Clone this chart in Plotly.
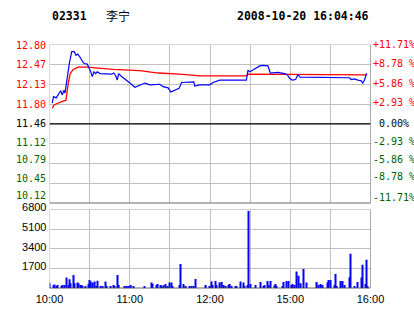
import plotly.graph_objects as go

W, H = 414, 314

# ---------------- data ----------------
code = "02331"
name = "李宁"
stamp = "2008-10-20 16:04:46"
prev_close = 11.46
pct_levels = [-11.71, -8.78, -5.86, -2.93, 0.0, 2.93, 5.86, 8.78, 11.71]
price_labels = ["10.12", "10.45", "10.79", "11.12", "11.46", "11.80", "12.13", "12.47", "12.80"]
pct_labels = ["-11.71%", "-8.78 %", "-5.86 %", "-2.93 %", " 0.00%", "+2.93 %", "+5.86 %", "+8.78 %", "+11.71%"]
time_ticks = [0, 30, 60, 90, 120, 150, 180, 210, 240]
time_labels = ["10:00", "", "11:00", "", "12:00", "", "15:00", "", "16:00"]
vol_ticks = [1700, 3400, 5100, 6800]

# price line (minute index from 10:00, price)
price_t = [2, 3, 5, 6.6, 8.4, 9.6, 10.8, 11.6, 12.8, 14, 14.8, 15.8, 16.6, 18.5, 19.8, 21.1,
           22.8, 24.8, 26, 28.2, 29.7, 30.8, 32, 33.2, 34.5, 35.7, 37.7, 42.7, 46.4, 48.1,
           49.6, 50.6, 51.7, 53.9, 57.1, 60.1, 63.8, 67.6, 71.3, 75.1, 82.5, 85, 88.7, 90.7,
           92.4, 96.9, 98.7, 102.4, 107.9, 108.6, 112.4, 119.8, 122.3, 127.3, 132.3, 142.2,
           147.2, 148.4, 149.7, 152.1, 157.1, 159.6, 163.3, 165.1, 168.3, 170.8, 175.8, 177.8,
           179.5, 181.5, 184, 185.7, 187.5, 201.9, 224.3, 225.6, 228.1, 230.5, 233.1, 234.2,
           235.5, 236.3, 237.2]
price_v = [11.81, 11.92, 11.90, 11.95, 12.02, 11.95, 12.03, 11.98, 12.20, 12.40, 12.48, 12.59,
           12.68, 12.68, 12.62, 12.64, 12.59, 12.51, 12.48, 12.47, 12.40, 12.34, 12.26, 12.34,
           12.31, 12.34, 12.31, 12.31, 12.30, 12.32, 12.27, 12.20, 12.31, 12.26, 12.21, 12.15,
           12.08, 12.12, 12.15, 12.12, 12.13, 12.09, 12.07, 12.00, 12.02, 12.06, 12.16, 12.16,
           12.17, 12.10, 12.12, 12.12, 12.16, 12.20, 12.20, 12.20, 12.20, 12.37, 12.34, 12.37,
           12.44, 12.45, 12.44, 12.32, 12.32, 12.33, 12.31, 12.29, 12.23, 12.20, 12.21, 12.29,
           12.25, 12.25, 12.24, 12.21, 12.22, 12.20, 12.19, 12.15, 12.20, 12.26, 12.31]

# average price line
avg_t = [2, 3.4, 8.2, 11.6, 12.3, 14, 15.5, 17.7, 21.5, 27.7, 37.7, 47.8, 67.6, 81.3, 97.5,
         112.4, 142.2, 147.2, 148.4, 205.6, 206.5, 236.3, 237.2]
avg_v = [11.72, 11.78, 11.83, 11.85, 11.86, 12.15, 12.31, 12.38, 12.42, 12.42, 12.40, 12.38,
         12.36, 12.32, 12.30, 12.27, 12.27, 12.27, 12.30, 12.30, 12.29, 12.29, 12.31]

# volume bars (minute index, volume)
vol_t = [0, 3, 4, 5, 6, 9, 10, 11, 13, 14, 15, 16, 18, 19, 21, 22, 23, 24, 25, 27, 29, 30, 31,
         32, 34, 35, 36, 38, 40, 42, 43, 46, 48, 49, 51, 52, 56, 58, 59, 61, 63,
         71, 76, 77, 80, 81, 83, 84, 85, 87, 88, 90, 91, 92, 97, 98, 100, 102, 105, 106, 108,
         109, 117, 120, 121, 122, 124, 125, 127, 129, 130, 132, 134, 135, 136, 139, 140, 143,
         145, 146, 148, 149, 150, 154, 158, 160, 161, 163, 164, 165, 168, 169, 170, 174, 175,
         177, 179, 181, 182, 183, 185, 186, 188, 190, 192, 200, 201, 203, 204, 208, 209, 210,
         213, 214, 215, 218, 219, 221, 224, 225, 228, 230, 233, 234, 236, 237, 238]
vol_v = [430, 260, 330, 200, 290, 200, 290, 290, 920, 290, 780, 430, 1150, 430, 490, 430, 290,
         290, 200, 200, 370, 720, 580, 490, 580, 200, 660, 200, 200, 580, 200, 200, 290, 200,
         1150, 290, 200, 200, 200, 290, 200,
         200, 490, 400, 290, 370, 290, 230, 260, 370, 200, 490, 490, 200, 290, 2100, 370, 200,
         200, 200, 200, 800, 290, 200, 580, 290, 630, 290, 490, 550, 290, 200, 290, 370, 200,
         200, 200, 580, 490, 200, 290, 6650, 370, 290, 550, 200, 290, 630, 290, 630, 260, 370,
         200, 200, 550, 630, 630, 290, 370, 290, 1440, 1070, 430, 1670, 490, 550, 290, 370, 290,
         490, 720, 720, 290, 1240, 200, 630, 630, 290, 950, 2970, 200, 550, 920, 2020, 370,
         2450, 200]

# ---------------- styles ----------------
RED = "#ff0000"
GREEN = "#005f00"
GRID = "#c0c0c0"
MONO = "DejaVu Sans Mono"
SANS = "Liberation Sans"
# per-label vertical nudges (pixels) of the price-scale labels, bottom to top
left_nudge = [7.5, 5, 4, 1, 0, 0, 0, 0, -1]
right_nudge = [6, 7, 4, 2, 0, 2, 0.5, 1, 0]

price_ticks = [prev_close * (1 + p / 100) for p in pct_levels]
p_lo, p_hi = price_ticks[0], price_ticks[-1]


def label_color(p):
    return RED if p > 0 else (GREEN if p < 0 else "#000000")


x0, x1 = 49.5 / W, 370.5 / W
py0, py1 = 1 - 203.3 / H, 1 - 44.5 / H
vy0, vy1 = 1 - 288.3 / H, 1 - 209.3 / H

fig = go.Figure()
fig.add_trace(go.Scatter(x=avg_t, y=avg_v, mode="lines", line=dict(color=RED, width=1.3),
                         xaxis="x", yaxis="y", hoverinfo="skip"))
fig.add_trace(go.Scatter(x=price_t, y=price_v, mode="lines", line=dict(color="#0000ff", width=1.2),
                         xaxis="x", yaxis="y", hoverinfo="skip"))
fig.add_trace(go.Bar(x=vol_t, y=vol_v, width=0.9, marker=dict(color="#0000ff", line=dict(width=0)),
                     xaxis="x2", yaxis="y3", hoverinfo="skip"))

axis_common = dict(showline=False, zeroline=False, gridcolor=GRID, gridwidth=1, ticks="",
                   automargin=False)

fig.update_layout(
    width=W, height=H, margin=dict(l=0, r=0, t=0, b=0, autoexpand=False),
    paper_bgcolor="white", plot_bgcolor="white", showlegend=False,
    xaxis=dict(domain=[x0, x1], range=[0, 240], tickvals=time_ticks, showticklabels=False,
               anchor="y", **axis_common),
    yaxis=dict(domain=[py0, py1], range=[p_lo, p_hi], tickvals=price_ticks,
               showticklabels=False, anchor="x", **axis_common),
    xaxis2=dict(domain=[x0, x1], range=[0, 240], tickvals=time_ticks, ticktext=time_labels,
                tickfont=dict(family=SANS, size=11, color="#000000"), anchor="y3",
                ticklabelstandoff=3, **axis_common),
    yaxis3=dict(domain=[vy0, vy1], range=[0, 6800], tickvals=vol_ticks,
                tickfont=dict(family=SANS, size=11, color="#000000"), anchor="x2",
                ticklabelstandoff=2, ticklabelshift=-2, **axis_common),
)

# price-scale labels on both sides, placed on the price axis
for val, lab, pct, ln in zip(price_ticks, price_labels, pct_levels, left_nudge):
    fig.add_annotation(x=47.5 / W, y=val, xref="paper", yref="y", xanchor="right", yanchor="middle",
                       yshift=ln, text=lab, showarrow=False,
                       font=dict(family=MONO, size=10, color=label_color(pct)))
for val, lab, pct, rn in zip(price_ticks, pct_labels, pct_levels, right_nudge):
    fig.add_annotation(x=371 / W, y=val, xref="paper", yref="y", xanchor="left", yanchor="middle",
                       yshift=rn, text=lab.replace(" ", "&nbsp;"), showarrow=False,
                       font=dict(family=MONO, size=10, color=label_color(pct)))

# frames and reference lines
shapes = [
    dict(type="rect", xref="x", yref="y", x0=0, x1=240, y0=p_lo, y1=p_hi, line=dict(color="#b0b0b0", width=1)),
    dict(type="line", xref="x", yref="y", x0=240, x1=240, y0=p_lo, y1=p_hi, line=dict(color="#808080", width=1)),
    dict(type="line", xref="x", yref="y", x0=0, x1=240, y0=prev_close, y1=prev_close, line=dict(color="#000000", width=1.3)),
    dict(type="line", xref="x", yref="y", x0=0, x1=240, y0=p_lo, y1=p_lo, line=dict(color="#000000", width=1.3)),
    dict(type="rect", xref="x2", yref="y3", x0=0, x1=240, y0=0, y1=6800, line=dict(color="#b0b0b0", width=1)),
    dict(type="line", xref="x2", yref="y3", x0=240, x1=240, y0=0, y1=6800, line=dict(color="#808080", width=1)),
    dict(type="line", xref="x2", yref="y3", x0=0, x1=240, y0=0, y1=0, line=dict(color="#000000", width=1.3)),
]
fig.update_layout(shapes=shapes)

ty = 1 - 16 / H
fig.add_annotation(x=49.5 / W, y=ty, xref="paper", yref="paper", xanchor="left", yanchor="middle",
                   text=f"<b>{code}</b>", showarrow=False, font=dict(family=MONO, size=11.5, color="#000"))
fig.add_annotation(x=104 / W, y=ty, xref="paper", yref="paper", xanchor="left", yanchor="middle",
                   text=name, showarrow=False, font=dict(family="Noto Sans CJK SC", size=12, color="#000"))
fig.add_annotation(x=371 / W, y=ty, xref="paper", yref="paper", xanchor="right", yanchor="middle",
                   text=f"<b>{stamp}</b>", showarrow=False, font=dict(family=MONO, size=11.5, color="#000"))

fig.write_html("out.html")
